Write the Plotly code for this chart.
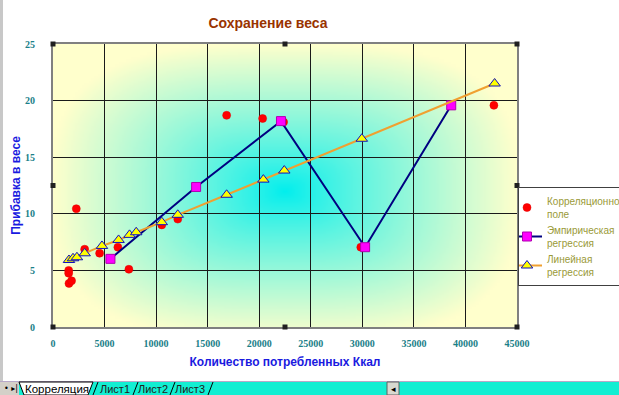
import base64, struct, zlib
import numpy as np
import plotly.graph_objects as go

# ---- data ----
corr_x = [1520, 1520, 1550, 1800, 2260, 3070, 4520, 6290, 7360, 10550, 12100, 16840, 20330, 22360, 29850, 42760]
corr_y = [5.0, 4.75, 3.85, 4.08, 10.45, 6.87, 6.52, 7.05, 5.1, 9.02, 9.53, 18.7, 18.42, 18.1, 7.05, 19.58]

emp_x = [5570, 13880, 22110, 30270, 38620]
emp_y = [6.02, 12.37, 18.19, 7.05, 19.58]

lin_x = [1550, 1940, 2320, 3070, 4750, 6360, 7420, 8070, 10550, 12100, 16840, 20400, 22430, 29950, 42830]
lin_y = [5.92, 6.07, 6.16, 6.51, 7.16, 7.69, 8.14, 8.37, 9.26, 9.91, 11.68, 13.02, 13.82, 16.63, 21.51]

x_ticks = [0, 5000, 10000, 15000, 20000, 25000, 30000, 35000, 40000, 45000]
y_ticks = [0, 5, 10, 15, 20, 25]
sheet_tabs = ["Лист1", "Лист2", "Лист3"]

# ---- geometry helpers (pixel -> paper) ----
W, H = 619, 395
L, R, T, B = 53, 517, 44, 327
def px(xp):
    return (xp - L) / (R - L)
def py(yp):
    return (B - yp) / (B - T)

# ---- gradient background image (yellow edges -> cyan centre) ----
def make_png(rgb):
    h, w, _ = rgb.shape
    raw = b"".join(b"\x00" + rgb[r].astype(np.uint8).tobytes() for r in range(h))
    def chunk(tag, data):
        c = struct.pack(">I", len(data)) + tag + data
        return c + struct.pack(">I", zlib.crc32(tag + data) & 0xffffffff)
    png = b"\x89PNG\r\n\x1a\n"
    png += chunk(b"IHDR", struct.pack(">IIBBBBB", w, h, 8, 2, 0, 0, 0))
    png += chunk(b"IDAT", zlib.compress(raw, 9))
    png += chunk(b"IEND", b"")
    return "data:image/png;base64," + base64.b64encode(png).decode()

gw, gh = 200, 120
xs = (np.arange(gw) + 0.5) / gw * 45000
ys = 25 - (np.arange(gh) + 0.5) / gh * 25
XX, YY = np.meshgrid(xs, ys)
dx = np.abs(XX - 22500) / 22500
dy = np.abs(YY - 12) / 13
d = (dx ** 3 + dy ** 3) ** (1 / 3)
t = np.clip(d, 0, 1) ** 0.85
cyan = np.array([0, 238, 238])
yel = np.array([255, 255, 204])
img = cyan[None, None, :] * (1 - t[..., None]) + yel[None, None, :] * t[..., None]
bg_src = make_png(np.clip(img, 0, 255))

fig = go.Figure()

fig.add_trace(go.Scatter(
    x=corr_x, y=corr_y, mode="markers", name="Корреляционное<br>поле",
    marker=dict(symbol="circle", size=8, color="#FF0000", line=dict(color="#E00000", width=0.5)),
))
fig.add_trace(go.Scatter(
    x=emp_x, y=emp_y, mode="lines+markers", name="Эмпирическая<br>регрессия",
    line=dict(color="#000080", width=2),
    marker=dict(symbol="square", size=9, color="#FF00FF", line=dict(color="#B000B0", width=1)),
))
fig.add_trace(go.Scatter(
    x=lin_x, y=lin_y, mode="lines+markers", name="Линейная<br>регрессия",
    line=dict(color="#F0A030", width=2),
    marker=dict(symbol="triangle-up", size=10, color="#FFFF00", line=dict(color="#1010C0", width=1)),
))

tickfont = dict(family="Liberation Serif", size=10, color="#1A8088")
axis_common = dict(showgrid=True, gridcolor="#1A1A1A", gridwidth=1, zeroline=False,
                   showline=True, linecolor="#808080", linewidth=2, mirror=True, automargin=False,
                   tickfont=tickfont, ticks="outside", tickcolor="rgba(0,0,0,0)")

fig.update_layout(
    width=W, height=H,
    margin=dict(l=L, r=W - R, t=T, b=H - B, pad=0, autoexpand=False),
    paper_bgcolor="white", plot_bgcolor="#FFFFCC",
    title=dict(text="<b>Сохранение веса</b>", x=268 / W, xanchor="center", y=1 - 23 / H, yanchor="middle",
               font=dict(family="Liberation Sans", size=14, color="#993300")),
    xaxis=dict(range=[0, 45000], tickvals=x_ticks, ticktext=["<b>%d</b>" % v for v in x_ticks], ticklen=6,
               title=dict(text="<b>Количество потребленных Ккал</b>", standoff=10,
                          font=dict(family="Liberation Sans", size=12, color="#1A1AE0")),
               **axis_common),
    yaxis=dict(range=[0, 25], tickvals=y_ticks, ticktext=["<b>%d</b>" % v for v in y_ticks], ticklen=14,
               title=dict(text="<b>Прибавка в весе</b>", standoff=2,
                          font=dict(family="Liberation Sans", size=12, color="#1A1AE0")),
               **axis_common),
    legend=dict(x=px(518), y=py(187), xanchor="left", yanchor="top",
                bgcolor="white", bordercolor="#404040", borderwidth=1,
                font=dict(family="Liberation Sans", size=10, color="#9A9A38"),
                itemwidth=30, tracegroupgap=0, indentation=-12),
    showlegend=True,
    images=[dict(source=bg_src, xref="x", yref="y", x=0, y=25, sizex=45000, sizey=25,
                 sizing="stretch", layer="below", xanchor="left", yanchor="top")],
)

shapes = []
# selection handles on the plot area frame
for hx in (L, (L + R) / 2, R):
    for hy in (T, (T + B) / 2, B):
        if hx == (L + R) / 2 and hy == (T + B) / 2:
            continue
        shapes.append(dict(type="rect", xref="paper", yref="paper",
                           x0=px(hx - 2.5), x1=px(hx + 2.5), y0=py(hy + 2.5), y1=py(hy - 2.5),
                           fillcolor="#202020", line=dict(width=0), layer="above"))
# window left border
shapes.append(dict(type="rect", xref="paper", yref="paper", x0=px(0), x1=px(3), y0=py(381), y1=py(0),
                   fillcolor="#C8C8C8", line=dict(width=0)))
# sheet tab bar
shapes.append(dict(type="rect", xref="paper", yref="paper", x0=px(0), x1=px(W), y0=py(H), y1=py(381),
                   fillcolor="#12EED2", line=dict(width=0)))
shapes.append(dict(type="line", xref="paper", yref="paper", x0=px(0), x1=px(W), y0=py(381.5), y1=py(381.5),
                   line=dict(color="#B8A8C8", width=1)))
shapes.append(dict(type="rect", xref="paper", yref="paper", x0=px(0), x1=px(19), y0=py(H), y1=py(382),
                   fillcolor="#D4D0C8", line=dict(width=0)))
# active tab
tab_path = "M {} {} L {} {} L {} {} L {} {} Z".format(px(19), py(382), px(24), py(H), px(88), py(H), px(93), py(382))
shapes.append(dict(type="path", xref="paper", yref="paper", path=tab_path,
                   fillcolor="white", line=dict(color="#000000", width=1)))
# other tab separators
for sx in (93, 133, 170, 208):
    shapes.append(dict(type="line", xref="paper", yref="paper", x0=px(sx + 5), x1=px(sx), y0=py(382), y1=py(H),
                       line=dict(color="#000000", width=1)))
# scroll button
shapes.append(dict(type="rect", xref="paper", yref="paper", x0=px(387), x1=px(399), y0=py(H), y1=py(382),
                   fillcolor="#D8D8D0", line=dict(color="#606060", width=1)))
fig.update_layout(shapes=shapes)

ann = [
    dict(text="• ▸|", x=px(2), y=py(388), xref="paper", yref="paper", xanchor="left", yanchor="middle",
         showarrow=False, font=dict(family="DejaVu Sans", size=8, color="#000000")),
    dict(text="Корреляция", x=px(57), y=py(388.5), xref="paper", yref="paper", xanchor="center", yanchor="middle",
         showarrow=False, font=dict(family="Liberation Sans", size=11.5, color="#000000")),
    dict(text="◂", x=px(393), y=py(388.5), xref="paper", yref="paper", xanchor="center", yanchor="middle",
         showarrow=False, font=dict(family="DejaVu Sans", size=9, color="#000000")),
]
for name, cx in zip(sheet_tabs, (115, 153, 190)):
    ann.append(dict(text=name, x=px(cx), y=py(388.5), xref="paper", yref="paper", xanchor="center",
                    yanchor="middle", showarrow=False,
                    font=dict(family="Liberation Sans", size=11, color="#202020")))
fig.update_layout(annotations=ann)

fig.write_html("out.html", config={"displayModeBar": False},
               post_script="document.body.style.margin='0';document.body.style.overflow='hidden';")
